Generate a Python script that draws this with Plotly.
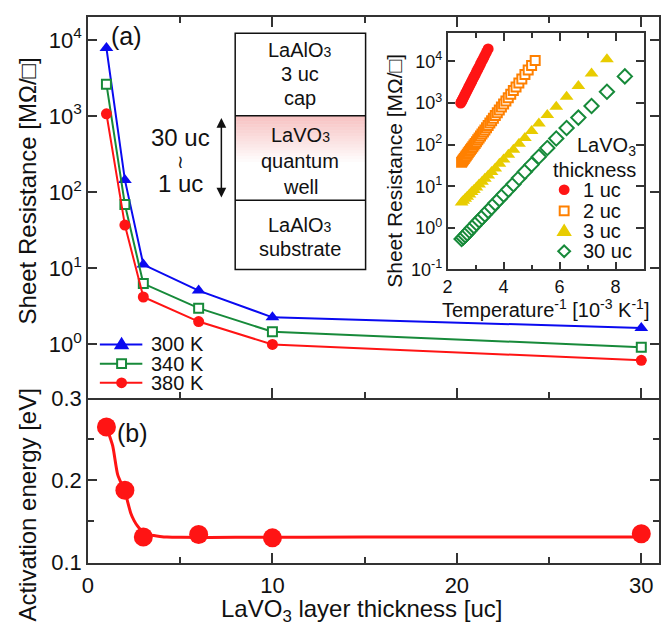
import plotly.graph_objects as go

W, H = 661, 637

# ---------------- data ----------------
thickness_uc = [1, 2, 3, 6, 10, 30]
rs_300K = [7800, 145, 11.2, 5.1, 2.27, 1.65]
rs_340K = [2620, 69, 6.3, 3.0, 1.47, 0.92]
rs_380K = [1070, 37, 4.2, 2.0, 1.0, 0.62]

ea_eV = [0.265, 0.188, 0.131, 0.134, 0.130, 0.135]
fit_x = [1, 1.34, 1.61, 2, 2.32, 2.5, 2.68, 2.85, 3.03, 3.3, 3.57, 3.9, 4.28, 5, 8, 15, 30]
fit_y = [0.265, 0.242, 0.207, 0.186, 0.160, 0.151, 0.1445, 0.140, 0.137, 0.134,
         0.1328, 0.1318, 0.131, 0.1306, 0.1306, 0.131, 0.1312]

inv_T_1uc = [2.469, 2.500, 2.532, 2.564, 2.597, 2.632, 2.667, 2.703, 2.740, 2.778, 2.817, 2.857,
             2.899, 2.941, 2.985, 3.030, 3.077, 3.125, 3.175, 3.226, 3.279, 3.333, 3.390, 3.448]
rs_1uc = [1000, 1096, 1208, 1334, 1472, 1641, 1828, 2042, 2291, 2570, 2884, 3273,
          3715, 4227, 4842, 5559, 6412, 7430, 8670, 10120, 11910, 14060, 16750, 20000]

inv_T_2uc = [2.500, 2.532, 2.564, 2.597, 2.632, 2.667, 2.703, 2.740, 2.778, 2.817, 2.857, 2.899,
             2.941, 2.985, 3.030, 3.077, 3.125, 3.175, 3.226, 3.279, 3.333, 3.390, 3.448, 3.509,
             3.571, 3.636, 3.704, 3.774, 3.846, 3.922, 4.000, 4.082, 4.167, 4.255, 4.348, 4.444,
             4.545, 4.651, 4.762, 4.878, 5.000, 5.128]
rs_2uc = [38.0, 40.7, 43.6, 46.8, 50.4, 54.3, 58.7, 63.5, 69.0, 75.0, 81.7, 89.3,
          97.7, 107, 118, 131, 145, 161, 180, 201, 226, 256, 290, 330,
          377, 433, 501, 582, 679, 798, 944, 1125, 1349, 1629, 1991, 2443,
          3034, 3802, 4831, 6194, 8035, 10570]

inv_T_3uc = [2.50, 2.56, 2.63, 2.70, 2.78, 2.86, 2.94, 3.03, 3.125, 3.23, 3.33, 3.45, 3.57, 3.70,
             3.85, 4.00, 4.17, 4.35, 4.55, 4.76, 5.00, 5.26, 5.56, 5.88, 6.25, 6.67, 7.14, 7.69]
rs_3uc = [4.07, 4.47, 5.01, 5.62, 6.31, 7.24, 8.13, 9.33, 11.0, 12.9, 15.1, 18.2, 21.9, 26.9,
          34.7, 43.7, 57.5, 75.9, 105, 145, 214, 324, 513, 813, 1413, 2570, 5129, 11220]

inv_T_30uc = [2.50, 2.56, 2.63, 2.70, 2.78, 2.86, 2.94, 3.03, 3.125, 3.23, 3.33, 3.45, 3.57, 3.70,
              3.85, 4.00, 4.17, 4.35, 4.55, 4.76, 5.00, 5.26, 5.56, 5.88, 6.25, 6.67, 7.14, 7.69, 8.33]
rs_30uc = [0.54, 0.59, 0.66, 0.74, 0.85, 0.98, 1.10, 1.29, 1.51, 1.78, 2.09, 2.57, 3.09, 3.89,
           4.90, 6.31, 8.32, 11.2, 15.8, 22.4, 33.1, 51.3, 83.2, 141, 251, 447, 851, 1862, 4365]

main_ytick_vals = [1, 10, 100, 1000, 10000]
main_ytick_text = ["10<sup>0</sup>", "10<sup>1</sup>", "10<sup>2</sup>", "10<sup>3</sup>", "10<sup>4</sup>"]
inset_ytick_vals = [0.1, 1, 10, 100, 1000, 10000]
inset_ytick_text = ["10<sup>-1</sup>", "10<sup>0</sup>", "10<sup>1</sup>", "10<sup>2</sup>",
                    "10<sup>3</sup>", "10<sup>4</sup>"]

# ---------------- style ----------------
FONT = "Liberation Sans, Arial, DejaVu Sans, sans-serif"
TXT = "#111111"
AX = "#333333"
BLUE = "#0a0af0"
GREEN = "#178a3a"
RED = "#ff1414"
ORANGE = "#ff8000"
YELLOW = "#e8cc00"


def px(x):
    return x / W


def py(y):
    return 1 - y / H


fig = go.Figure()

# panel (a)
fig.add_trace(go.Scatter(x=thickness_uc, y=rs_300K, xaxis="x2", yaxis="y2", mode="lines+markers",
                         line=dict(color=BLUE, width=2),
                         marker=dict(symbol="triangle-up", size=12, color=BLUE), name="300 K",
                         showlegend=False))
fig.add_trace(go.Scatter(x=thickness_uc, y=rs_340K, xaxis="x2", yaxis="y2", mode="lines+markers",
                         line=dict(color=GREEN, width=2),
                         marker=dict(symbol="square", size=9, color="white",
                                     line=dict(color=GREEN, width=2)), name="340 K",
                         showlegend=False))
fig.add_trace(go.Scatter(x=thickness_uc, y=rs_380K, xaxis="x2", yaxis="y2", mode="lines+markers",
                         line=dict(color=RED, width=2),
                         marker=dict(symbol="circle", size=11, color=RED), name="380 K",
                         showlegend=False))

# panel (b)
fig.add_trace(go.Scatter(x=fit_x, y=fit_y, xaxis="x", yaxis="y", mode="lines",
                         line=dict(color=RED, width=3, shape="spline", smoothing=0.6),
                         showlegend=False))
fig.add_trace(go.Scatter(x=thickness_uc, y=ea_eV, xaxis="x", yaxis="y", mode="markers",
                         marker=dict(symbol="circle", size=19, color=RED), showlegend=False))

# inset
fig.add_trace(go.Scatter(x=inv_T_1uc, y=rs_1uc, xaxis="x3", yaxis="y3", mode="markers",
                         marker=dict(symbol="circle", size=11, color=RED), showlegend=False))
fig.add_trace(go.Scatter(x=inv_T_2uc, y=rs_2uc, xaxis="x3", yaxis="y3", mode="markers",
                         marker=dict(symbol="square", size=9, color="white",
                                     line=dict(color=ORANGE, width=2)), showlegend=False))
fig.add_trace(go.Scatter(x=inv_T_3uc, y=rs_3uc, xaxis="x3", yaxis="y3", mode="markers",
                         marker=dict(symbol="triangle-up", size=12, color=YELLOW), showlegend=False))
fig.add_trace(go.Scatter(x=inv_T_30uc, y=rs_30uc, xaxis="x3", yaxis="y3", mode="markers",
                         marker=dict(symbol="diamond", size=11, color="white",
                                     line=dict(color=GREEN, width=2)), showlegend=False))

ax_common = dict(showline=True, linecolor=AX, linewidth=1.5, ticks="inside", tickcolor=AX,
                 tickwidth=1.5, showgrid=False, zeroline=False,
                 tickfont=dict(family=FONT, size=22, color=TXT))

xr = [0, 30.96]
xdom = [px(83), 1.0]

fig.update_layout(
    width=W, height=H, margin=dict(l=0, r=0, t=0, b=0),
    paper_bgcolor="white", plot_bgcolor="white",
    font=dict(family=FONT, color=TXT),
    xaxis=dict(**ax_common, domain=xdom, range=xr, anchor="y", tickvals=[0, 10, 20, 30],
               ticklen=10, mirror=False, ticklabelstandoff=2,
               minor=dict(dtick=5, ticks="inside", ticklen=6, tickcolor=AX, tickwidth=1.5)),
    yaxis=dict(**ax_common, domain=[py(573), py(402)], range=[0.1, 0.3], anchor="x",
               tickvals=[0.1, 0.2, 0.3], ticklen=9, mirror="ticks",
               minor=dict(dtick=0.05, ticks="inside", ticklen=6, tickcolor=AX, tickwidth=1.5)),
    xaxis2=dict(**ax_common, domain=xdom, range=xr, anchor="y2", matches="x",
                tickvals=[0, 10, 20, 30], showticklabels=False, ticklen=10, mirror="ticks",
                minor=dict(dtick=5, ticks="inside", ticklen=6, tickcolor=AX, tickwidth=1.5)),
    yaxis2=dict(**ax_common, domain=[py(402), py(5)], type="log", range=[-0.706, 4.303],
                anchor="x2", tickvals=main_ytick_vals, ticktext=main_ytick_text, ticklen=9,
                mirror="ticks"),
    xaxis3=dict(**ax_common, domain=[px(447), px(646)], range=[2, 9.02], anchor="y3",
                tickvals=[2, 4, 6, 8], ticklen=8, mirror="ticks",
                minor=dict(dtick=1, ticks="inside", ticklen=5, tickcolor=AX, tickwidth=1.5)),
    yaxis3=dict(**ax_common, domain=[py(268), py(22)], type="log", range=[-1, 4.68],
                anchor="x3", tickvals=inset_ytick_vals, ticktext=inset_ytick_text, ticklen=8,
                mirror="ticks"),
)
fig.update_layout(xaxis3_tickfont_size=18, yaxis3_tickfont_size=18)

shapes = []
# schematic gradient band
n_b = 16
for i in range(n_b):
    y0 = 108 + i * 3
    a = 0.42 * (1 - i / n_b)
    shapes.append(dict(type="rect", xref="paper", yref="paper", x0=px(232), x1=px(364),
                       y0=py(y0 + 3), y1=py(y0), line=dict(width=0),
                       fillcolor=f"rgba(236,110,110,{a:.3f})", layer="below"))
shapes.append(dict(type="rect", xref="paper", yref="paper", x0=px(232), x1=px(364),
                   y0=py(268), y1=py(22), line=dict(color="#111", width=1.5)))
for yy in (108, 196):
    shapes.append(dict(type="line", xref="paper", yref="paper", x0=px(232), x1=px(364),
                       y0=py(yy), y1=py(yy), line=dict(color="#111", width=1.5)))


def poly(points, color, fill):
    path = "M " + " L ".join(f"{px(x):.5f},{py(y):.5f}" for x, y in points) + " Z"
    return dict(type="path", xref="paper", yref="paper", path=path,
                line=dict(color=color, width=2), fillcolor=fill)


# main legend keys
key_rows = [(346, BLUE), (366, GREEN), (386, RED)]
for yy, c in key_rows:
    shapes.append(dict(type="line", xref="paper", yref="paper", x0=px(95), x1=px(138),
                       y0=py(yy), y1=py(yy), line=dict(color=c, width=2)))
cx = 117
shapes.append(poly([(cx - 6, 350), (cx + 6, 350), (cx, 340)], BLUE, BLUE))
shapes.append(poly([(cx - 4.5, 361.5), (cx + 4.5, 361.5), (cx + 4.5, 370.5), (cx - 4.5, 370.5)],
                   GREEN, "white"))
shapes.append(dict(type="circle", xref="paper", yref="paper", x0=px(cx - 5.5), x1=px(cx + 5.5),
                   y0=py(391.5), y1=py(380.5), line=dict(color=RED, width=0), fillcolor=RED))

# inset legend keys
kx = 565
shapes.append(dict(type="circle", xref="paper", yref="paper", x0=px(kx - 5.5), x1=px(kx + 5.5),
                   y0=py(190.5), y1=py(179.5), line=dict(color=RED, width=0), fillcolor=RED))
shapes.append(poly([(kx - 4.5, 202.5), (kx + 4.5, 202.5), (kx + 4.5, 211.5), (kx - 4.5, 211.5)],
                   ORANGE, "white"))
shapes.append(poly([(kx - 6, 232), (kx + 6, 232), (kx, 222)], YELLOW, YELLOW))
shapes.append(poly([(kx, 243), (kx + 6, 249), (kx, 255), (kx - 6, 249)], GREEN, "white"))

fig.update_layout(shapes=shapes)

ann = []


def text(x, y, s, size, xanchor="center", angle=0):
    ann.append(dict(x=px(x), y=py(y), xref="paper", yref="paper", text=s, showarrow=False,
                    xanchor=xanchor, yanchor="middle", textangle=angle,
                    font=dict(family=FONT, size=size, color=TXT)))


text(22, 186, "Sheet Resistance [MΩ/□]", 24, angle=-90)
text(22, 513, "Activation energy [eV]", 24, angle=-90)
text(360, 623, "LaVO<sub>3</sub> layer thickness [uc]", 24)
text(393, 165, "Sheet Resistance [MΩ/□]", 21, angle=-90)
text(546, 309, "Temperature<sup>-1</sup> [10<sup>-3</sup> K<sup>-1</sup>]", 20)
text(122, 25, "(a)", 25)
text(128, 438, "(b)", 25)

# schematic texts
sub3 = '<span style="font-size:14px">3</span>'
for yy, s in [(40, "LaAlO" + sub3), (65, "3 uc"), (90, "cap"), (128, "LaVO" + sub3),
              (155, "quantum"), (182, "well"), (222, "LaAlO" + sub3), (247, "substrate")]:
    text(298, yy, s, 20)

text(177, 131, "30 uc", 24)
text(177, 156, "≀", 18)
text(177, 179, "1 uc", 24)
ann.append(dict(x=px(218), y=py(193), xref="paper", yref="paper", ax=0, ay=-81,
                axref="pixel", ayref="pixel", text="", showarrow=True, arrowside="end+start",
                arrowhead=2, arrowsize=1.3, arrowwidth=1.5, arrowcolor="#111",
                standoff=0, startstandoff=0))

# legends
for yy, s in [(346, "300 K"), (366, "340 K"), (386, "380 K")]:
    text(145, yy, s, 20, xanchor="left")
text(640, 140, "LaVO<sub>3</sub>", 20, xanchor="right")
text(640, 164, "thickness", 20, xanchor="right")
for yy, s in [(185, "1 uc"), (207, "2 uc"), (228, "3 uc"), (249, "30 uc")]:
    text(582, yy, s, 20, xanchor="left")

fig.update_layout(annotations=ann)

fig.write_html("out.html")
